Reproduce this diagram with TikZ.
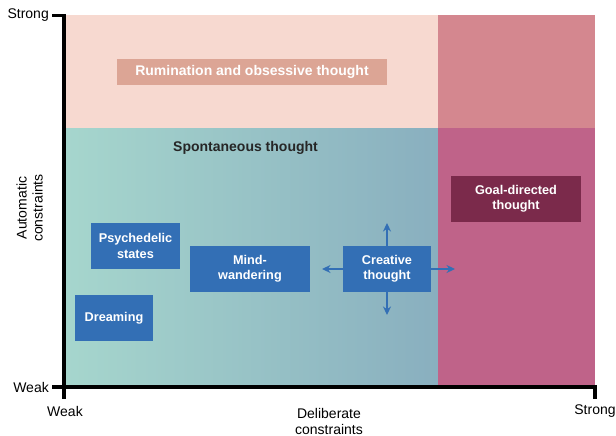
\documentclass[tikz,border=0pt]{standalone}
\usepackage{fontspec}
\setmainfont{Liberation Sans}
\usetikzlibrary{arrows.meta}
\definecolor{ruminbg}{HTML}{F7D9D0}
\definecolor{ruminbox}{HTML}{DCA595}
\definecolor{goalbg}{HTML}{D4878F}
\definecolor{goalmid}{HTML}{BF6389}
\definecolor{goalbox}{HTML}{7B2A4B}
\definecolor{tealL}{HTML}{A6D6CD}
\definecolor{tealM}{HTML}{9FCDC8}
\definecolor{tealR}{HTML}{89AFBF}
\definecolor{thoughtblue}{HTML}{336FB5}
\begin{document}
\begin{tikzpicture}[x=1pt,y=-1pt,line cap=butt,line join=miter,>={Stealth[length=8.5pt,width=8pt]},font=\fontsize{14}{16}\selectfont]
			\tikzset{statebox/.style={fill=thoughtblue,text=white,align=center,inner sep=0pt,
					minimum height=46,font=\fontsize{12.7}{15.3}\selectfont\bfseries},
				axislabel/.style={align=center,inner sep=0pt}}
			\useasboundingbox (0,0) rectangle (616,436);
			% regions
			\fill[ruminbg] (64,15) rectangle (438,128);
			\fill[goalbg] (438,15) rectangle (595,128);
			\shade[left color=tealL,middle color=tealM,right color=tealR] (64,128) rectangle (438,386);
			\fill[goalmid] (438,128) rectangle (595,386);
			% axes
			\draw[line width=3.5] (52,15.5)--(64,15.5)--(64,398.5);
			\draw[line width=3.5] (52,387)--(595,387)--(595,399);
			\node[axislabel,anchor=east] (ystrong) at (49,15.5) {Strong};
			\node[axislabel,anchor=east] (yweak) at (49,387) {Weak};
			\node[axislabel] (xweak) at (65,411) {Weak};
			\node[axislabel] (xstrong) at (595,411) {Strong};
			\node[axislabel] (xlabel) at (329,421) {Deliberate\\constraints};
			\node[axislabel,rotate=90] (ylabel) at (29.5,208) {Automatic\\constraints};
			% thoughts
			\node[fill=ruminbox,text=white,inner sep=0pt,minimum width=270,minimum height=26,
				font=\fontsize{14}{16}\selectfont\bfseries] (rumination) at (252,72) {Rumination and obsessive thought};
			\node[text=black!85,font=\fontsize{14}{16}\selectfont\bfseries] (spont) at (245.5,148) {Spontaneous thought};
			\node[statebox,minimum width=89] (psyche) at (135.5,246) {Psychedelic\\states};
			\node[statebox,minimum width=120] (mind) at (250,269) {Mind-\\wandering};
			\node[statebox,minimum width=78] (dream) at (114,318) {Dreaming};
			\node[statebox,minimum width=88] (creative) at (387,269) {Creative\\thought};
			\node[statebox,fill=goalbox,minimum width=130] (goal) at (516,199) {Goal-directed\\thought};
			\coordinate (cup) at (387,223);
			\coordinate (cdown) at (387,315);
			\coordinate (cleft) at (322,269);
			\coordinate (cright) at (455,269);
			\foreach \p/\q in {north/cup,south/cdown,west/cleft,east/cright}{
				\draw[->,thoughtblue,line width=1.3] (creative.\p)--(\q);}
	\end{tikzpicture}
\end{document}
